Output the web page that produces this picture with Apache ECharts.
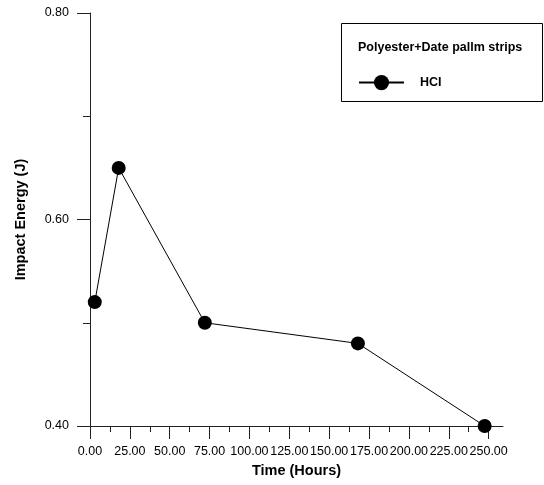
<!DOCTYPE html>
<html>
<head>
<meta charset="utf-8">
<script src="https://cdn.jsdelivr.net/npm/echarts@6/dist/echarts.min.js"></script>
<style>
html,body{margin:0;padding:0;background:#fff;}
#chart{width:544px;height:485px;}
</style>
</head>
<body>
<div id="chart"></div>
<script>
// ---- data ----
const timeHours = [3, 18, 72, 168, 247.5];
const impactEnergy = [0.52, 0.65, 0.50, 0.48, 0.40];
const seriesName = 'HCI';
const legendTitle = 'Polyester+Date pallm strips';
const xMajorTicks = [0, 25, 50, 75, 100, 125, 150, 175, 200, 225, 250];
const xMinorTicks = [12.5, 37.5, 62.5, 87.5, 112.5, 137.5, 162.5, 187.5, 212.5, 237.5];
const yMin = 0.4, yMax = 0.8, yInterval = 0.2;
const xMin = 0, xMax = 259;

const font = '"Liberation Sans", Arial, Helvetica, sans-serif';
const chart = echarts.init(document.getElementById('chart'), null, {renderer: 'canvas'});
const axisColor = '#222';

chart.setOption({
  animation: false,
  backgroundColor: '#fff',
  textStyle: {fontFamily: font},
  grid: {left: 90, top: 13, right: 41, bottom: 59, containLabel: false},
  xAxis: [{
    type: 'value', min: xMin, max: xMax, position: 'bottom',
    name: 'Time (Hours)', nameLocation: 'middle', nameGap: 37,
    nameTextStyle: {fontFamily: font, fontSize: 14.5, fontWeight: 'bold', color: '#000'},
    axisLine: {show: true, lineStyle: {color: axisColor, width: 1}},
    axisTick: {show: true, length: 13, lineStyle: {color: axisColor}, customValues: xMajorTicks},
    axisLabel: {show: true, margin: 19, fontSize: 12.5, color: '#000', fontFamily: font,
      customValues: xMajorTicks, formatter: v => v.toFixed(2), hideOverlap: false},
    splitLine: {show: false}
  }, {
    type: 'value', min: xMin, max: xMax, position: 'bottom', gridIndex: 0,
    axisLine: {show: false},
    axisTick: {show: true, length: 6, lineStyle: {color: axisColor}, customValues: xMinorTicks},
    axisLabel: {show: false},
    splitLine: {show: false}
  }],
  yAxis: {
    type: 'value', min: yMin, max: yMax, interval: yInterval,
    name: 'Impact Energy (J)', nameLocation: 'middle', nameGap: 62, nameRotate: 90,
    nameTextStyle: {fontFamily: font, fontSize: 14.5, fontWeight: 'bold', color: '#000'},
    axisLine: {show: true, lineStyle: {color: axisColor, width: 1}},
    axisTick: {show: true, length: 13, lineStyle: {color: axisColor}},
    minorTick: {show: true, splitNumber: 2, length: 7, lineStyle: {color: axisColor}},
    axisLabel: {margin: 21, fontSize: 12.5, color: '#000', fontFamily: font, formatter: v => v.toFixed(2)},
    splitLine: {show: false},
    minorSplitLine: {show: false}
  },
  legend: {
    show: true, left: 353, top: 70, orient: 'vertical',
    itemWidth: 45, itemHeight: 19,
    textStyle: {fontFamily: font, fontSize: 12.5, fontWeight: 'bold', color: '#000', padding: [0, 0, 0, 11]},
    data: [seriesName]
  },
  graphic: [{
    type: 'rect', left: 341, top: 23, z: 0,
    shape: {width: 201, height: 78},
    style: {fill: '#fff', stroke: '#000', lineWidth: 1}
  }, {
    type: 'text', left: 358, top: 41, z: 10,
    style: {text: legendTitle, font: 'bold 12.5px ' + font, fill: '#000'}
  }],
  series: [{
    name: seriesName, type: 'line',
    xAxisIndex: 0,
    data: timeHours.map((t, i) => [t, impactEnergy[i]]),
    symbol: 'circle', symbolSize: 14,
    itemStyle: {color: '#000'},
    lineStyle: {color: '#000', width: 1},
    z: 5
  }]
});
</script>
</body>
</html>
